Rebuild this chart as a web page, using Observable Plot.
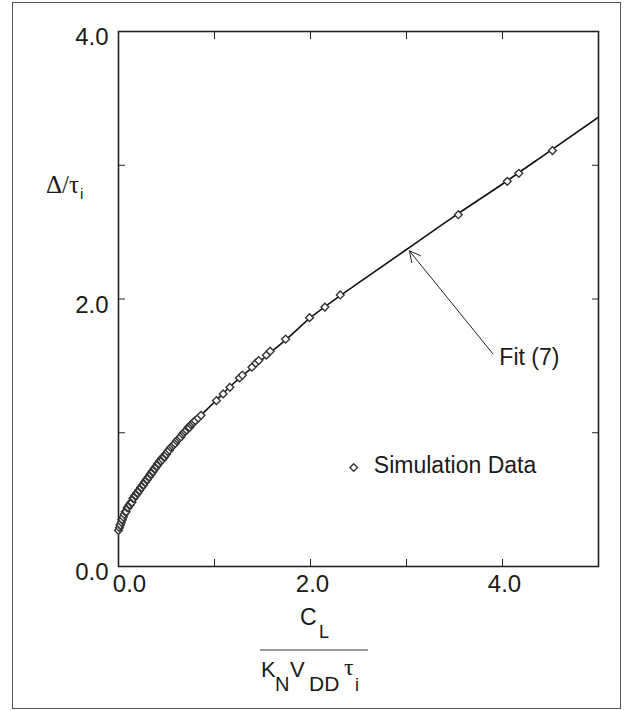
<!DOCTYPE html>
<html><head><meta charset="utf-8">
<script src="https://cdn.jsdelivr.net/npm/d3@7"></script>
<script src="https://cdn.jsdelivr.net/npm/@observablehq/plot@0.6"></script>
<style>
html,body{margin:0;padding:0;background:#fff;}
#wrap{position:relative;width:627px;height:711px;}
#border{position:absolute;left:12px;top:2px;width:609px;height:707px;border:1.5px solid #555;box-sizing:border-box;pointer-events:none;}
#wrap svg{position:absolute;left:0;top:0;}
</style></head><body><div id="wrap"><div id="border"></div></div>
<script>
// Fit (7) curve
const fitX = [0, 0.02, 0.05, 0.1, 0.15, 0.2, 0.3, 0.4, 0.5, 0.6, 0.7, 0.8, 0.9, 1.0, 1.2, 1.5, 1.75, 2.0, 2.3, 2.5, 3.0, 3.5, 4.0, 4.5, 5.0];
const fitY = [0.26, 0.31, 0.37, 0.44, 0.50, 0.55, 0.65, 0.75, 0.84, 0.93, 1.01, 1.09, 1.16, 1.23, 1.37, 1.55, 1.70, 1.86, 2.02, 2.12, 2.37, 2.62, 2.86, 3.11, 3.36];

// Simulation data (diamonds)
const simX = [0.00, 0.01, 0.015, 0.02, 0.03, 0.035, 0.04, 0.05, 0.06, 0.07, 0.08, 0.09, 0.10, 0.11, 0.12, 0.13, 0.14, 0.15, 0.16, 0.17, 0.18, 0.19, 0.20,
  0.21, 0.22, 0.23, 0.24, 0.25, 0.26, 0.27, 0.28, 0.29, 0.30, 0.31, 0.32, 0.33, 0.34, 0.35, 0.36, 0.37, 0.38, 0.39, 0.40,
  0.41, 0.42, 0.43, 0.44, 0.45, 0.46, 0.47, 0.48, 0.49, 0.50, 0.51, 0.53, 0.545, 0.56, 0.575, 0.59, 0.605, 0.62, 0.635, 0.65,
  0.665, 0.68, 0.695, 0.71, 0.725, 0.74, 0.755, 0.77, 0.785, 0.80, 0.83, 0.86,
  1.02, 1.09, 1.16, 1.26, 1.29, 1.39, 1.43, 1.46, 1.54, 1.58, 1.74, 1.99, 2.15, 2.31, 3.54, 4.05, 4.17, 4.52];
const simY = [0.27, 0.29, 0.31, 0.31, 0.33, 0.35, 0.35, 0.37, 0.39, 0.41, 0.41, 0.44, 0.44, 0.46, 0.46, 0.48, 0.48, 0.51, 0.51, 0.53, 0.53, 0.55, 0.55,
  0.57, 0.57, 0.59, 0.59, 0.61, 0.61, 0.63, 0.63, 0.65, 0.65, 0.67, 0.67, 0.69, 0.69, 0.71, 0.71, 0.73, 0.73, 0.75, 0.75,
  0.77, 0.77, 0.79, 0.79, 0.81, 0.80, 0.82, 0.82, 0.84, 0.84, 0.86, 0.87, 0.89, 0.90, 0.91, 0.92, 0.94, 0.95, 0.96, 0.97,
  0.99, 1.00, 1.01, 1.02, 1.04, 1.04, 1.06, 1.07, 1.08, 1.09, 1.11, 1.13,
  1.24, 1.29, 1.34, 1.41, 1.43, 1.49, 1.52, 1.54, 1.58, 1.61, 1.70, 1.86, 1.94, 2.03, 2.63, 2.88, 2.94, 3.11];

// Axis ticks and labels
const xTicks = [1, 2, 3, 4];
const xLabelTicks = [2, 4];
const xZeroLabel = [0];
const yTicks = [1, 2, 3];
const yLabelTicks = [0, 2, 4];

// Annotations (data coordinates)
const fitLabel = "Fit (7)";
const legendLabel = "Simulation Data";

const fit = fitX.map((x, i) => ({x, y: fitY[i]}));
const sim = simX.map((x, i) => ({x, y: simY[i]}));
const arrow = [{x1: 3.90, y1: 1.59, x2: 3.03, y2: 2.36}];
const fitText = [{x: 4.28, y: 1.56, t: fitLabel}];
const legDot = [{x: 2.45, y: 0.74}];
const legText = [{x: 2.66, y: 0.755, t: legendLabel}];

const fmt = d3.format(".1f");
const SANS = "'Liberation Sans', Arial, Helvetica, sans-serif";
const SERIF = "'Liberation Serif', 'Times New Roman', serif";

const svg = Plot.plot({
  width: 627, height: 711,
  marginLeft: 118, marginRight: 29, marginTop: 31, marginBottom: 145,
  style: {fontFamily: SANS, fontSize: "24px", color: "#1a1a1a", background: "transparent", overflow: "visible"},
  x: {domain: [0, 5]},
  y: {domain: [0, 4]},
  marks: [
    Plot.axisX(xTicks, {anchor: "bottom", tickSize: -7, tickFormat: () => "", label: null, stroke: "#222"}),
    Plot.axisX(xTicks, {anchor: "top", tickSize: -7, tickFormat: () => "", label: null, stroke: "#222"}),
    Plot.axisY(yTicks, {anchor: "left", tickSize: -7, tickFormat: () => "", label: null, stroke: "#222"}),
    Plot.axisY(yTicks, {anchor: "right", tickSize: -7, tickFormat: () => "", label: null, stroke: "#222"}),
    Plot.axisX(xLabelTicks, {anchor: "bottom", tickSize: 0, tickPadding: 8, tickFormat: fmt, label: null, dx: 2}),
    Plot.axisX(xZeroLabel, {anchor: "bottom", tickSize: 0, tickPadding: 8, tickFormat: fmt, label: null, dx: 11}),
    Plot.axisY(yLabelTicks, {anchor: "left", tickSize: 0, tickPadding: 10, tickFormat: fmt, label: null, dy: 6}),
    Plot.frame({stroke: "#222", strokeWidth: 1.6}),
    Plot.line(fit, {x: "x", y: "y", stroke: "#111", strokeWidth: 1.6, curve: "monotone-x", clip: true}),
    Plot.dot(sim, {x: "x", y: "y", symbol: "diamond2", r: 3.5, fill: "white", stroke: "#333", strokeWidth: 1.4}),
    Plot.arrow(arrow, {x1: "x1", y1: "y1", x2: "x2", y2: "y2", stroke: "#222", strokeWidth: 1, headLength: 18, headAngle: 55}),
    Plot.text(fitText, {x: "x", y: "y", text: "t", fontSize: 23, textAnchor: "middle", fill: "#1a1a1a"}),
    Plot.dot(legDot, {x: "x", y: "y", symbol: "diamond2", r: 3.4, fill: "white", stroke: "#333", strokeWidth: 1.3}),
    Plot.text(legText, {x: "x", y: "y", text: "t", fontSize: 23, textAnchor: "start", fill: "#1a1a1a"})
  ]
});

const s = d3.select(svg);
function t(x, y, str, size, family) {
  return s.append("text").attr("x", x).attr("y", y).attr("font-size", size)
    .attr("font-family", family).attr("text-anchor", "start").attr("fill", "#1a1a1a").text(str);
}
// y-axis label  Δ/τ_i
t(46, 193, "Δ/τ", 25, SERIF);
t(80, 199, "i", 15, SANS);
// x-axis label  C_L / (K_N V_DD τ_i)
t(300, 625, "C", 23, SANS);
t(319, 638, "L", 18, SANS);
s.append("line").attr("x1", 260).attr("x2", 368).attr("y1", 650).attr("y2", 650).attr("stroke", "#333").attr("stroke-width", 1.2);
t(261, 677, "K", 22, SANS);
t(275, 691, "N", 20, SANS);
t(290, 677, "V", 22, SANS);
t(309, 691, "DD", 21, SANS);
t(344, 675, "τ", 24, SERIF);
t(355, 691, "i", 18, SANS);

document.getElementById("wrap").appendChild(svg);
</script>
</body></html>
